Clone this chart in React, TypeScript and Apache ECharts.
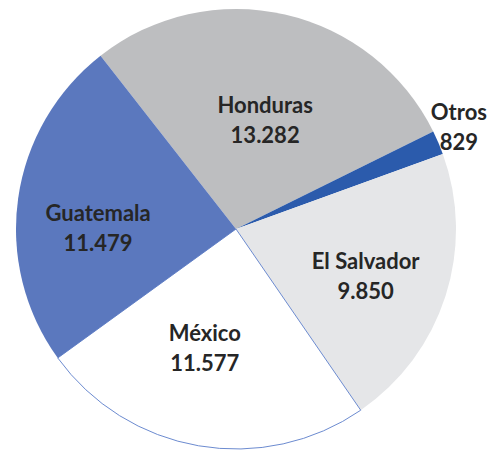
import React, { useEffect, useRef } from "react";
import * as echarts from "echarts";

const categories = ["Honduras", "Otros", "El Salvador", "México", "Guatemala"];
const values = [13282, 829, 9850, 11577, 11479];
const valueLabels = ["13.282", "829", "9.850", "11.577", "11.479"];
const colors = ["#BDBEC0", "#2B5BAC", "#E5E6E8", "#FFFFFF", "#5B78BE"];
const labelOffsets = [
  [4, 1],
  [119, -58],
  [22, 12],
  [-12, 7],
  [-26, 14],
];

export default function App() {
  const ref = useRef<HTMLDivElement>(null);
  useEffect(() => {
    if (!ref.current) return;
    const chart = echarts.init(ref.current, undefined, { renderer: "svg" });
    chart.setOption({
      animation: false,
      backgroundColor: "#FFFFFF",
      series: [
        {
          type: "pie",
          center: [236, 229],
          radius: 220,
          startAngle: 128,
          clockwise: true,
          avoidLabelOverlap: false,
          label: {
            show: true,
            position: "inside",
            formatter: (p: any) => `${p.name}\n${valueLabels[p.dataIndex]}`,
            fontFamily: "Lato",
            fontWeight: "bold",
            fontSize: 22,
            lineHeight: 30,
            color: "#262626",
          },
          labelLine: { show: false },
          labelLayout: (params: any) => ({
            dx: labelOffsets[params.dataIndex][0],
            dy: labelOffsets[params.dataIndex][1],
          }),
          emphasis: { disabled: true },
          data: categories.map((name, i) => ({
            name,
            value: values[i],
            itemStyle:
              i === 3
                ? { color: colors[i], borderColor: "#6C8BD0", borderWidth: 1 }
                : { color: colors[i], borderWidth: 0 },
          })),
        },
      ],
    });
    return () => chart.dispose();
  }, []);
  return (
    <div
      ref={ref}
      style={{ position: "absolute", left: 0, top: 0, width: 490, height: 451 }}
    />
  );
}
